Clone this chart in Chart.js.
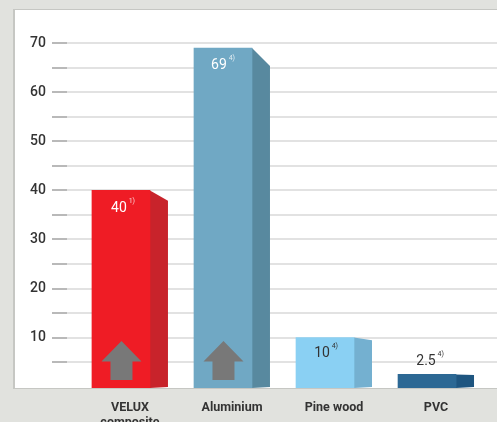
<!DOCTYPE html>
<html>
<head>
<meta charset="utf-8">
<style>
html,body{margin:0;padding:0;background:#e1e2de;overflow:hidden}
#wrap{position:relative;width:497px;height:422px;overflow:hidden}
#panel{position:absolute;left:13px;top:9px;width:484px;height:380px;background:#fff;border-left:2px solid #c6c7c3;border-top:1px solid #c6c7c3;border-bottom:1px solid #c6c7c3;box-sizing:border-box}
canvas{position:absolute;left:0;top:0}
</style>
<script src="https://cdn.jsdelivr.net/npm/chart.js@4/dist/chart.umd.min.js"></script>
</head>
<body>
<div id="wrap"><div id="panel"></div><canvas id="c" width="497" height="422"></canvas></div>
<script>
const categories = [["VELUX","composite"],"Aluminium","Pine wood","PVC"];
const values = [40,69,10,2.5];
const valueLabels = ["40","69","10","2.5"];
const footnotes = ["1)","4)","4)","4)"];
const frontColors = ["#ef1c25","#70a8c4","#8ad0f3","#2c6894"];
const sideColors = ["#c8232b","#58899f","#74b0d0","#1e5580"];
const labelColors = ["#ffffff","#ffffff","#333333","#333333"];
const labelRaise = [-18,-17,-16,13];
const labelShift = [-2,-4,-3,-1];
const arrowBars = [0,1];
const yTicks = [5,10,15,20,25,30,35,40,45,50,55,60,65,70];

const faces = {
  id:'faces',
  beforeDatasetsDraw(chart){
    const ctx = chart.ctx, meta = chart.getDatasetMeta(0), y = chart.scales.y;
    meta.data.forEach((bar,i)=>{
      const right = bar.x + bar.width/2, depth = 18;
      const base = bar.base;
      const backTop = y.getPixelForValue(values[i]*0.947);
      ctx.fillStyle = sideColors[i];
      ctx.beginPath();
      ctx.moveTo(right,bar.y);
      ctx.lineTo(right+depth,backTop);
      ctx.lineTo(right+depth,base-1);
      ctx.lineTo(right,base);
      ctx.closePath();
      ctx.fill();
    });
  },
  afterDatasetsDraw(chart){
    const ctx = chart.ctx, meta = chart.getDatasetMeta(0);
    arrowBars.forEach(i=>{
      const b = meta.data[i], cx = b.x+0.5, bot = b.base-8;
      ctx.fillStyle = '#787878';
      ctx.beginPath();
      ctx.moveTo(cx,bot-39);
      ctx.lineTo(cx+20,bot-18.5);
      ctx.lineTo(cx+11,bot-18.5);
      ctx.lineTo(cx+11,bot);
      ctx.lineTo(cx-11,bot);
      ctx.lineTo(cx-11,bot-18.5);
      ctx.lineTo(cx-20,bot-18.5);
      ctx.closePath();
      ctx.fill();
    });
    meta.data.forEach((b,i)=>{
      const cx = b.x+labelShift[i], cy = b.y-labelRaise[i];
      ctx.fillStyle = labelColors[i];
      ctx.textAlign='center'; ctx.textBaseline='middle';
      ctx.font='400 14px Roboto';
      ctx.fillText(valueLabels[i],cx,cy);
      const w = ctx.measureText(valueLabels[i]).width;
      ctx.font='400 7px Roboto';
      ctx.globalAlpha = i<2 ? 0.8 : 1;
      ctx.fillText(footnotes[i],cx+w/2+5,cy-7);
      ctx.globalAlpha = 1;
    });
  }
};

new Chart(document.getElementById('c'),{
  type:'bar',
  data:{datasets:[{
    data:values.map((v,i)=>({x:i,y:v})),
    backgroundColor:frontColors,
    borderWidth:0,
    barThickness:58,
    base:-0.27
  }]},
  plugins:[faces],
  options:{
    responsive:false,
    animation:false,
    layout:{padding:{top:9,right:0,left:0,bottom:0}},
    plugins:{legend:{display:false},tooltip:{enabled:false},title:{display:false}},
    scales:{
      x:{
        type:'linear',
        offset:false,
        min:-0.529, max:3.686,
        afterFit(s){s.height=34;s.paddingLeft=0;s.paddingRight=0;},
        afterBuildTicks(s){s.ticks=categories.map((_,i)=>({value:i}));},
        grid:{display:false},
        border:{display:false},
        ticks:{
          autoSkip:false,maxRotation:0,padding:5,labelOffset:9,
          color:'#333333',font:{family:'Roboto',weight:'700',size:12.5,lineHeight:1.15},
          callback(v){return categories[v];}
        }
      },
      y:{
        min:-0.27,max:76.97,
        afterFit(s){s.width=67;s.paddingTop=0;s.paddingBottom=0;},
        afterBuildTicks(s){s.ticks=yTicks.map(v=>({value:v}));},
        grid:{color:'#e2e2e2',lineWidth:2,tickColor:'#b9b9b9',tickWidth:2,tickLength:15,drawTicks:true},
        border:{display:false},
        ticks:{
          autoSkip:false,padding:6,color:'#333333',
          font:{family:'Roboto',weight:'500',size:14},
          callback(v){return v%10===0?String(v):'';}
        }
      }
    }
  }
});
</script>
</body>
</html>
